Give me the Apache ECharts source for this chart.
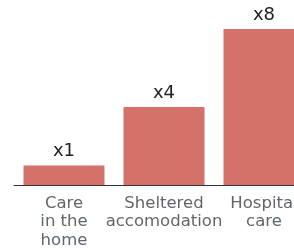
<!DOCTYPE html>
<html>
<head>
<meta charset="utf-8">
<script src="https://cdn.jsdelivr.net/npm/echarts@6/dist/echarts.min.js"></script>
<style>
  html, body { margin: 0; padding: 0; background: #fff; overflow: hidden; }
  #chart { width: 316px; height: 248px; }
</style>
</head>
<body>
<div id="chart"></div>
<script>
  // Relative cost multiplier per care setting
  const categories = ['Care\nin the\nhome', 'Sheltered\naccomodation', 'Hospital\ncare']
  const multipliers = [1, 4, 8]

  const chart = echarts.init(document.getElementById('chart'), null, { renderer: 'canvas' })

  chart.setOption({
    animation: false,
    grid: { left: 14, right: 2, top: 29, bottom: 63, outerBoundsMode: 'none' },
    xAxis: {
      type: 'category',
      data: categories,
      axisLine: { lineStyle: { color: '#333', width: 1 } },
      axisTick: { show: false },
      axisLabel: {
        color: '#5f666d', fontFamily: 'DejaVu Sans', fontSize: 16.5,
        lineHeight: 18.5, margin: 9, interval: 0,
      },
    },
    yAxis: {
      type: 'value', min: 0, max: 8,
      show: false,
    },
    series: [{
      type: 'bar',
      data: multipliers,
      barWidth: 81,
      itemStyle: { color: '#d4726a' },
      label: {
        show: true, position: 'top', distance: 5,
        formatter: 'x{c}',
        color: '#222', fontFamily: 'DejaVu Sans', fontSize: 18,
      },
    }],
  })
</script>
</body>
</html>
